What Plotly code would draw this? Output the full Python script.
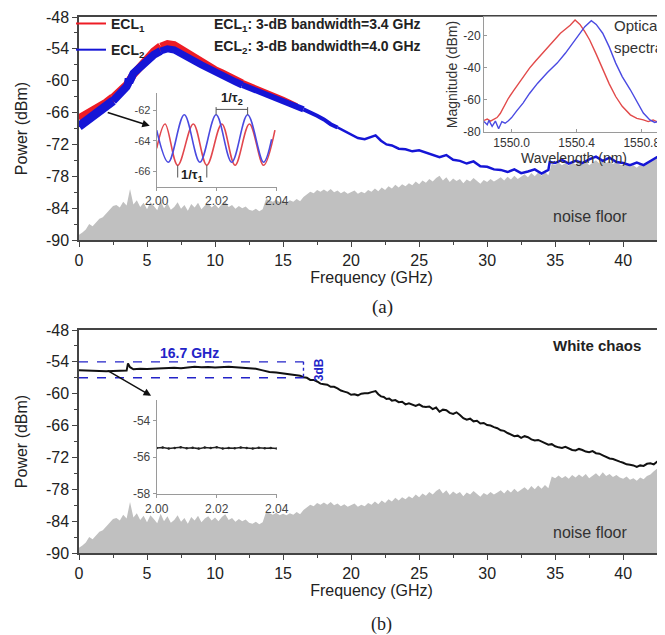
import plotly.graph_objects as go

FONT = "Liberation Sans, Arial, sans-serif"
SERIF = "Liberation Serif, Times New Roman, serif"

# ---------------- data ----------------
ecl1_freq = [0, 0.5, 1, 1.5, 2, 2.5, 3, 3.5, 4, 4.5, 5, 5.5, 6, 6.5, 7, 7.5, 8, 8.5, 9, 9.5,
             10, 10.5, 11, 11.5, 12, 12.5, 13, 13.5, 14, 14.5, 15, 15.5, 16]
ecl1_power = [-67.2, -66.5, -65.8, -65.0, -64.2, -63.2, -62.1, -60.8, -58.8, -57.3, -55.8, -54.5,
              -53.5, -53.0, -53.2, -54.0, -55.0, -55.8, -56.5, -57.2, -57.9, -58.5, -59.2, -59.8,
              -60.4, -60.9, -61.4, -62.0, -62.5, -63.1, -63.6, -64.2, -64.8]

ecl2_freq = [0, 0.5, 1, 1.5, 2, 2.5, 3, 3.5, 3.6, 3.65, 3.7, 4, 4.5, 5, 5.5, 6, 6.5, 7, 7.5, 8,
             8.5, 9, 9.5, 10, 10.5, 11, 11.5, 12, 12.5, 13, 13.5, 14, 14.5, 15, 15.5, 16, 16.5,
             17, 17.5, 18, 18.5, 19, 19.5, 20, 20.5, 21, 21.5, 21.8, 22.2, 22.6, 23, 23.5, 24,
             24.5, 25, 25.5, 26, 26.5, 27, 27.5, 28, 28.5, 29, 29.5, 30, 30.5, 31, 31.5, 32,
             32.5, 33, 33.5, 34, 34.5, 34.6, 35, 35.5, 36, 36.5, 37, 37.5, 38, 38.5, 39, 39.5,
             40, 40.5, 41, 41.5, 42, 42.5, 43]
ecl2_power = [-68.6, -67.6, -66.7, -65.8, -64.9, -63.8, -62.6, -61.1, -60.6, -59.6, -60.3, -58.6,
              -57.4, -56.1, -55.1, -54.4, -54.0, -54.2, -54.8, -55.6, -56.3, -57.0, -57.7, -58.4,
              -59.0, -59.6, -60.2, -60.8, -61.3, -61.8, -62.4, -62.9, -63.5, -64.0, -64.5, -65.0,
              -65.4, -65.9, -66.6, -67.3, -68.2, -68.8, -69.5, -70.2, -70.8, -71.0, -70.6, -70.3,
              -71.3, -72.0, -72.2, -72.8, -72.9, -73.3, -73.1, -73.5, -73.9, -74.4, -74.0, -74.9,
              -75.1, -75.6, -75.2, -76.1, -76.2, -76.7, -76.8, -77.2, -76.7, -77.4, -77.1, -76.7,
              -77.5, -76.8, -75.3, -75.5, -74.9, -75.6, -75.1, -75.5, -74.8, -74.3, -75.1, -74.5,
              -75.3, -75.5, -75.9, -75.4, -75.9, -75.1, -74.4, -73.6]

noise_step = 0.25
noise_power = [
    -89.0, -88.6, -88.0, -87.0, -87.4, -86.6, -86.0, -85.7, -84.9, -84.3, -83.6, -83.4,
    -83.9, -82.8, -83.5, -80.4, -83.3, -82.5, -83.8, -83.0, -84.2, -82.9, -83.6, -84.4,
    -82.6, -84.0, -83.1, -84.3, -83.8, -82.9, -84.1, -83.4, -84.5, -83.2, -83.9, -83.0,
    -84.2, -83.5, -83.1, -83.9, -83.3, -84.0, -83.2, -82.7, -83.8, -83.4, -84.1, -83.6,
    -84.0, -83.7, -84.3, -84.5, -84.1, -84.6, -84.2, -82.3, -82.5, -82.8, -82.4, -82.9,
    -82.6, -82.9, -82.5, -82.8, -82.3, -82.7, -81.9, -81.4, -80.9, -81.2, -80.6, -80.9,
    -80.5, -80.9, -80.4, -81.0, -80.7, -81.2, -80.8, -81.3, -81.0, -80.7, -81.3, -80.9,
    -81.2, -80.6, -80.9, -80.3, -80.8, -80.1, -80.6, -79.9, -80.3, -79.6, -80.1, -79.5,
    -79.9, -79.3, -79.7, -79.0, -79.5, -78.8, -79.2, -78.5, -79.0, -78.3, -77.9, -78.8,
    -78.2, -79.1, -78.4, -78.9, -78.5, -79.3, -78.6, -79.0, -78.3, -78.9, -79.4, -78.7,
    -79.1, -78.5, -79.0, -78.6, -78.2, -78.8, -78.1, -78.6, -77.9, -78.5, -78.0, -77.6,
    -78.2, -77.4, -78.0, -77.3, -77.9, -77.2, -77.8, -75.6, -75.9, -75.4, -75.9, -75.5,
    -76.0, -75.3, -75.8, -75.2, -75.7, -75.1, -75.9, -75.4, -75.0, -75.6, -74.8, -75.5,
    -75.1, -75.7, -75.3, -75.8, -76.0, -75.6, -76.2, -75.9, -76.4, -75.8, -76.1, -75.5,
    -75.2, -74.6, -74.1, -74.4, -73.9]
noise_freq = [round(i * noise_step, 2) for i in range(len(noise_power))]

chaos_freq = [0, 0.5, 1, 1.5, 2, 2.5, 3, 3.5, 3.6, 3.75, 4, 4.5, 5, 5.5, 6, 6.5, 7, 7.5, 8, 8.5,
              9, 9.5, 10, 10.5, 11, 11.5, 12, 12.5, 13, 13.5, 14, 14.5, 15, 15.5,
              16, 16.25, 16.5, 16.75, 17, 17.25, 17.5, 17.75, 18, 18.25, 18.5, 18.75, 19, 19.25,
              19.5, 19.75, 20, 20.25, 20.5, 20.75, 21, 21.25, 21.5, 21.8, 22.0, 22.2, 22.4, 22.6,
              22.8, 23, 23.25, 23.5, 23.75, 24, 24.25, 24.5, 24.75, 25, 25.25, 25.5, 25.75, 26,
              26.25, 26.5, 26.75, 27, 27.25, 27.5, 27.75, 28, 28.25, 28.5, 28.75, 29, 29.25, 29.5,
              29.75, 30, 30.25, 30.5, 30.75, 31, 31.25, 31.5, 31.75, 32, 32.25, 32.5, 32.75, 33,
              33.25, 33.5, 33.75, 34, 34.25, 34.5, 34.75, 35, 35.25, 35.5, 35.75, 36, 36.25, 36.5,
              36.75, 37, 37.25, 37.5, 37.75, 38, 38.25, 38.5, 38.75, 39, 39.25, 39.5, 39.75, 40,
              40.25, 40.5, 40.75, 41, 41.25, 41.5, 41.75, 42, 42.25, 42.5, 42.75, 43]
chaos_power = [-55.6, -55.65, -55.7, -55.7, -55.75, -55.7, -55.7, -55.65, -54.3, -55.0, -55.4,
               -55.3, -55.35, -55.3, -55.2, -55.25, -55.1, -55.2, -55.0, -54.9, -55.0, -54.95,
               -55.05, -54.95, -54.9, -55.0, -55.1, -55.15, -55.3, -55.6, -55.9, -56.0, -56.2,
               -56.3,
               -56.5, -56.6, -56.9, -57.0, -57.4, -57.4, -57.7, -58.1, -58.2, -58.3, -58.7, -58.7,
               -59.0, -59.4, -59.6, -59.8, -60.2, -60.1, -60.3, -60.0, -59.9, -59.9, -59.7, -59.5,
               -60.1, -60.5, -60.6, -61.0, -60.9, -61.3, -61.2, -61.6, -61.5, -62.0, -61.8, -62.1,
               -62.3, -62.0, -62.4, -62.5, -62.4, -62.9, -62.6, -63.4, -63.0, -63.1, -63.6, -63.8,
               -63.5, -64.0, -64.6, -64.9, -64.7, -65.2, -65.1, -65.6, -65.5, -65.9, -66.0, -66.3,
               -66.5, -66.9, -67.0, -67.4, -67.7, -68.0, -67.9, -68.3, -68.0, -68.2, -68.6, -68.8,
               -68.7, -69.0, -69.4, -69.6, -69.5, -69.9, -70.1, -70.2, -70.0, -70.3, -70.6, -70.7,
               -70.4, -70.6, -70.9, -71.0, -70.8, -71.2, -71.3, -71.6, -71.9, -72.2, -72.3, -72.6,
               -72.8, -73.0, -73.3, -73.4, -73.5, -73.8, -73.5, -73.6, -73.2, -73.1, -73.3, -72.8,
               -72.5, -73.2]

# zoomed views 2.00-2.04 GHz
zoom_red_freq = [2.000, 2.0028, 2.0070, 2.0122, 2.0167, 2.0217, 2.0261, 2.0309, 2.0356, 2.0394]
zoom_red_power = [-64.5, -62.9, -65.6, -62.9, -65.6, -62.9, -65.6, -62.9, -65.6, -63.3]
zoom_blue_freq = [2.000, 2.0039, 2.0092, 2.0144, 2.0198, 2.0250, 2.0303, 2.0356, 2.0383]
zoom_blue_power = [-63.3, -65.4, -62.3, -65.4, -62.3, -65.4, -62.3, -65.4, -63.9]
zoom_chaos_freq = [2.000, 2.002, 2.004, 2.006, 2.008, 2.010, 2.012, 2.014, 2.016, 2.018, 2.020,
                   2.022, 2.024, 2.026, 2.028, 2.030, 2.032, 2.034, 2.036, 2.038, 2.040]
zoom_chaos_power = [-55.50, -55.47, -55.52, -55.49, -55.46, -55.51, -55.48, -55.53, -55.47, -55.50,
                    -55.46, -55.52, -55.49, -55.51, -55.47, -55.50, -55.53, -55.48, -55.51, -55.49,
                    -55.52]
tau1_marks = [2.0070, 2.0167]
tau2_marks = [2.0198, 2.0303]

# optical spectra
opt_red_wl = [1549.83, 1549.85, 1549.87, 1549.89, 1549.91, 1549.93, 1549.95, 1549.98, 1550.01,
              1550.04, 1550.07, 1550.11, 1550.15, 1550.19, 1550.23, 1550.27, 1550.30, 1550.33,
              1550.36, 1550.39, 1550.42, 1550.45, 1550.48, 1550.52, 1550.56, 1550.60, 1550.64,
              1550.68, 1550.73, 1550.77, 1550.81, 1550.84, 1550.87, 1550.90, 1550.93]
opt_red_mag = [-72.8, -71.9, -73.2, -72.1, -71.0, -68.5, -64.5, -59.0, -54.5, -50.0, -45.5, -40.2,
               -35.5, -31.0, -26.5, -22.0, -18.5, -16.0, -13.5, -10.3, -13.0, -17.5, -22.7, -31.5,
               -41.3, -50.0, -57.9, -64.0, -69.3, -71.5, -72.4, -73.5, -72.5, -73.8, -72.8]
opt_blue_wl = [1549.83, 1549.85, 1549.86, 1549.88, 1549.90, 1549.92, 1549.94, 1549.96, 1549.98,
               1550.00, 1550.03, 1550.07, 1550.11, 1550.16, 1550.22, 1550.28, 1550.33, 1550.39,
               1550.42, 1550.45, 1550.49, 1550.52, 1550.56, 1550.60, 1550.64, 1550.68, 1550.73,
               1550.77, 1550.81, 1550.85, 1550.88, 1550.91, 1550.94]
opt_blue_mag = [-73.5, -75.5, -72.8, -76.5, -73.2, -78.0, -73.5, -74.5, -73.0, -71.0, -67.0, -62.0,
                -56.0, -49.6, -43.0, -37.1, -31.0, -22.7, -18.5, -14.4, -10.7, -13.0, -18.5, -27.0,
                -37.1, -45.5, -53.7, -61.0, -68.2, -72.5, -74.0, -73.2, -74.3]

freq_ticks = [0, 5, 10, 15, 20, 25, 30, 35, 40]
power_ticks = [-90, -84, -78, -72, -66, -60, -54, -48]
power_tick_labels = ["-90", "-84", "-78", "-72", "-66", "-60", "-54", "-48"]
flat_levels = [-54, -57]          # 3-dB reference levels in (b)
flat_bw_end = 16.5                # GHz, end of the dashed 3-dB lines
ecl1_bw, ecl2_bw, white_bw = 3.4, 4.0, 16.7

# ---------------- styling ----------------
RED = "#ee1c25"
BLUE = "#1515d6"
GRAY_FILL = "#c0c0c0"
AX = "#444444"
width_bands = [((0, 2.5), 9), ((2.5, 6), 8), ((6, 12), 7), ((12, 16.5), 6),
               ((16.5, 19), 4), ((19, 43), 2.5)]
FREQ_MIN, FREQ_MAX = 0, 43
P_MIN, P_MAX = -90, -48

TOP_DOM = [0.58396, 1.0]
BOT_DOM = [0.0, 0.41604]

fig = go.Figure()


def add_noise(xa, ya):
    fig.add_trace(go.Scatter(
        x=noise_freq + [noise_freq[-1], noise_freq[0]],
        y=noise_power + [P_MIN, P_MIN],
        fill="toself", fillcolor=GRAY_FILL, line=dict(width=0, color=GRAY_FILL),
        mode="lines", showlegend=False, hoverinfo="skip", xaxis=xa, yaxis=ya))


def add_banded(freq, power, color):
    for (lo, hi), w in width_bands:
        idx = [i for i, f in enumerate(freq) if lo <= f <= hi]
        if len(idx) < 2:
            continue
        fig.add_trace(go.Scatter(
            x=[freq[i] for i in idx], y=[power[i] for i in idx], mode="lines",
            line=dict(color=color, width=w), showlegend=False, hoverinfo="skip",
            xaxis="x", yaxis="y"))


# top panel
add_noise("x", "y")
add_banded(ecl1_freq, ecl1_power, RED)
add_banded(ecl2_freq, ecl2_power, BLUE)
# legend entries
fig.add_trace(go.Scatter(x=[None], y=[None], mode="lines", line=dict(color=RED, width=2),
                         name="<b>ECL<sub>1</sub></b>", legendgroup="a", xaxis="x", yaxis="y"))
fig.add_trace(go.Scatter(x=[None], y=[None], mode="lines", line=dict(color=BLUE, width=2),
                         name="<b>ECL<sub>2</sub></b>", legendgroup="b", xaxis="x", yaxis="y"))

# bottom panel
add_noise("x2", "y2")
fig.add_trace(go.Scatter(x=chaos_freq, y=chaos_power, mode="lines",
                         line=dict(color="#111111", width=2), showlegend=False,
                         xaxis="x2", yaxis="y2"))

# inset (a): zoom
fig.add_trace(go.Scatter(x=zoom_red_freq, y=zoom_red_power, mode="lines", line_shape="spline",
                         line=dict(color="#e2474d", width=1.6), showlegend=False,
                         xaxis="x3", yaxis="y3"))
fig.add_trace(go.Scatter(x=zoom_blue_freq, y=zoom_blue_power, mode="lines", line_shape="spline",
                         line=dict(color="#4a4ae0", width=1.6), showlegend=False,
                         xaxis="x3", yaxis="y3"))

# inset (a): optical spectra
fig.add_trace(go.Scatter(x=opt_red_wl, y=opt_red_mag, mode="lines",
                         line=dict(color="#e24a4a", width=1.4), showlegend=False,
                         xaxis="x4", yaxis="y4"))
fig.add_trace(go.Scatter(x=opt_blue_wl, y=opt_blue_mag, mode="lines",
                         line=dict(color="#4a4ae2", width=1.4), showlegend=False,
                         xaxis="x4", yaxis="y4"))

# inset (b): zoom
fig.add_trace(go.Scatter(x=zoom_chaos_freq, y=zoom_chaos_power, mode="lines+markers",
                         line=dict(color="#222222", width=1.5), marker=dict(size=2.5, color="#222"),
                         showlegend=False, xaxis="x5", yaxis="y5"))

main_x = dict(range=[FREQ_MIN, FREQ_MAX], tickvals=freq_ticks, ticks="outside", ticklen=5,
              tickwidth=1.3, tickcolor=AX, minor=dict(dtick=2.5, tick0=0, ticks="outside",
                                                      ticklen=3, tickcolor=AX),
              showline=True, linecolor=AX, linewidth=1.5, mirror=True, showgrid=False,
              zeroline=False, automargin=False,
              tickfont=dict(family=FONT, size=16, color="#222"),
              title=dict(text="Frequency (GHz)", font=dict(family=FONT, size=16, color="#222"),
                         standoff=4))
main_y = dict(range=[P_MIN, P_MAX], tickvals=power_ticks, ticktext=power_tick_labels,
              ticks="outside", ticklen=5, tickwidth=1.3, tickcolor=AX,
              minor=dict(dtick=3, tick0=-90, ticks="outside", ticklen=3, tickcolor=AX),
              showline=True, linecolor=AX, linewidth=1.5, mirror=True, showgrid=False,
              zeroline=False, automargin=False,
              tickfont=dict(family=FONT, size=16, color="#222"),
              title=dict(text="Power (dBm)", font=dict(family=FONT, size=16, color="#222"),
                         standoff=14))

inset_tick = dict(family=FONT, size=12, color="#444")
INS_LINE = "#9a9a9a"

# the page body adds an 8 px margin, so the figure is 8 px smaller than the window
fig.update_layout(
    width=657, height=627,
    margin=dict(l=71, r=1, t=9, b=82, autoexpand=False),
    paper_bgcolor="white", plot_bgcolor="rgba(0,0,0,0)",
    font=dict(family=FONT, color="#222"),
    xaxis=dict(main_x, domain=[0, 1], anchor="y"),
    yaxis=dict(main_y, domain=TOP_DOM, anchor="x"),
    xaxis2=dict(main_x, domain=[0, 1], anchor="y2"),
    yaxis2=dict(main_y, domain=BOT_DOM, anchor="x2"),
    xaxis3=dict(domain=[0.1328, 0.3380], anchor="y3", range=[2.0, 2.04], automargin=False,
                tickvals=[2.00, 2.02, 2.04], tickformat=".2f", ticks="outside", ticklen=3,
                tickcolor=INS_LINE, showline=True, linecolor=INS_LINE, linewidth=1,
                showgrid=False, zeroline=False, tickfont=inset_tick),
    yaxis3=dict(domain=[0.6834, 0.8576], anchor="x3", range=[-67.0, -60.9], automargin=False,
                tickvals=[-66, -64, -62], ticktext=["-66", "-64", "-62"], ticks="outside",
                ticklen=3, tickcolor=INS_LINE, showline=True, linecolor=INS_LINE, linewidth=1,
                showgrid=False, zeroline=False, tickfont=dict(family=FONT, size=11, color="#444")),
    xaxis4=dict(domain=[0.6923, 1.0], anchor="y4", range=[1549.83, 1550.937], automargin=False,
                tickvals=[1550.0, 1550.4, 1550.8], tickformat=".1f", ticks="inside", ticklen=3,
                tickcolor=INS_LINE, showline=True, linecolor=INS_LINE, linewidth=1, mirror=True,
                showgrid=False, zeroline=False, tickfont=dict(family=FONT, size=12, color="#333"),
                title=dict(text="Wavelength (nm)", font=dict(family=FONT, size=14, color="#333"),
                           standoff=2)),
    yaxis4=dict(domain=[0.7854, 1.0], anchor="x4", range=[-80, -8.4], automargin=False,
                tickvals=[-80, -60, -40, -20], ticktext=["-80", "-60", "-40", "-20"],
                ticks="inside", ticklen=3, tickcolor=INS_LINE, showline=True, linecolor=INS_LINE,
                linewidth=1, mirror=True, showgrid=False, zeroline=False,
                tickfont=dict(family=FONT, size=12, color="#333"),
                title=dict(text="Magnitude (dBm)", font=dict(family=FONT, size=14, color="#333"),
                           standoff=2)),
    xaxis5=dict(domain=[0.1328, 0.3380], anchor="y5", range=[2.0, 2.04], automargin=False,
                tickvals=[2.00, 2.02, 2.04], tickformat=".2f", ticks="outside", ticklen=3,
                tickcolor=INS_LINE, showline=True, linecolor=INS_LINE, linewidth=1,
                showgrid=False, zeroline=False, tickfont=inset_tick),
    yaxis5=dict(domain=[0.1095, 0.2854], anchor="x5", range=[-58.05, -52.85], automargin=False,
                tickvals=[-58, -56, -54], ticktext=["-58", "-56", "-54"], ticks="outside",
                ticklen=3, tickcolor=INS_LINE, showline=True, linecolor=INS_LINE, linewidth=1,
                showgrid=False, zeroline=False, tickfont=dict(family=FONT, size=12, color="#444")),
    showlegend=True,
    legend=dict(x=-0.0137, y=1.017, xanchor="left", yanchor="top", bgcolor="rgba(0,0,0,0)",
                font=dict(family=FONT, size=14, color="#222"), traceorder="grouped",
                tracegroupgap=5, itemwidth=30),
)

ann = []
ann.append(dict(xref="paper", yref="paper", x=0.2274, y=0.985, xanchor="left", yanchor="middle",
                text=f"<b>ECL<sub>1</sub>: 3-dB bandwidth={ecl1_bw} GHz</b>", showarrow=False,
                font=dict(family=FONT, size=14, color="#222")))
ann.append(dict(xref="paper", yref="paper", x=0.2274, y=0.9431, xanchor="left", yanchor="middle",
                text=f"<b>ECL<sub>2</sub>: 3-dB bandwidth={ecl2_bw} GHz</b>", showarrow=False,
                font=dict(family=FONT, size=14, color="#222")))
ann.append(dict(xref="paper", yref="paper", x=0.9111, y=0.985, xanchor="left", yanchor="middle",
                text="Optical", showarrow=False, font=dict(family=FONT, size=15, color="#333")))
ann.append(dict(xref="paper", yref="paper", x=0.9111, y=0.944, xanchor="left", yanchor="middle",
                text="spectra", showarrow=False, font=dict(family=FONT, size=15, color="#333")))
ann.append(dict(xref="paper", yref="paper", x=0.8735, y=0.6287, xanchor="center", yanchor="middle",
                text="noise floor", showarrow=False, font=dict(family=FONT, size=16, color="#333")))
ann.append(dict(xref="paper", yref="paper", x=0.8735, y=0.0379, xanchor="center", yanchor="middle",
                text="noise floor", showarrow=False, font=dict(family=FONT, size=16, color="#333")))
ann.append(dict(xref="paper", yref="paper", x=0.885, y=0.3862, xanchor="center", yanchor="middle",
                text="<b>White chaos</b>", showarrow=False, font=dict(family=FONT, size=15, color="#222")))
ann.append(dict(xref="paper", yref="paper", x=0.5188, y=0.4595, xanchor="center", yanchor="middle",
                text="(a)", showarrow=False, font=dict(family=SERIF, size=19, color="#222")))
ann.append(dict(xref="paper", yref="paper", x=0.5174, y=-0.133, xanchor="center", yanchor="middle",
                text="(b)", showarrow=False, font=dict(family=SERIF, size=18, color="#222")))
# bandwidth labels in (b)
ann.append(dict(xref="x2", yref="y2", x=8.15, y=-52.3, xanchor="center", yanchor="middle",
                text=f"<b>{white_bw} GHz</b>", showarrow=False,
                font=dict(family=FONT, size=14, color="#2323c8")))
ann.append(dict(xref="x2", yref="y2", x=17.6, y=-55.5, xanchor="center", yanchor="middle",
                text="<b>3dB</b>", textangle=-90, showarrow=False,
                font=dict(family=FONT, size=12, color="#2323c8")))
# arrows to the insets
ann.append(dict(xref="x", yref="y", axref="x", ayref="y", x=5.2, y=-68.5, ax=2.0, ay=-65.9,
                showarrow=True, arrowhead=2, arrowsize=1, arrowwidth=1.5, arrowcolor="#111",
                text=""))
ann.append(dict(xref="x2", yref="y2", axref="x2", ayref="y2", x=5.3, y=-60.4, ax=2.0, ay=-55.5,
                showarrow=True, arrowhead=2, arrowsize=1, arrowwidth=1.5, arrowcolor="#111",
                text=""))
# 1/tau labels
ann.append(dict(xref="x3", yref="y3", x=sum(tau2_marks) / 2, y=-61.25, xanchor="center",
                yanchor="middle", text="<b>1/τ<sub>2</sub></b>", showarrow=False,
                font=dict(family=FONT, size=13, color="#222")))
ann.append(dict(xref="x3", yref="y3", x=sum(tau1_marks) / 2, y=-66.25, xanchor="center",
                yanchor="middle", text="<b>1/τ<sub>1</sub></b>", showarrow=False,
                font=dict(family=FONT, size=13, color="#222")))
fig.update_layout(annotations=ann)

shapes = []
for lvl in flat_levels:
    shapes.append(dict(type="line", xref="x2", yref="y2", x0=FREQ_MIN, x1=flat_bw_end, y0=lvl,
                       y1=lvl, line=dict(color="#2323c8", width=1.4, dash="dash")))
shapes.append(dict(type="line", xref="x2", yref="y2", x0=flat_bw_end, x1=flat_bw_end,
                   y0=flat_levels[0], y1=flat_levels[1],
                   line=dict(color="#2323c8", width=1.4, dash="dot")))
# tau brackets
shapes.append(dict(type="line", xref="x3", yref="y3", x0=tau2_marks[0], x1=tau2_marks[1],
                   y0=-61.95, y1=-61.95, line=dict(color="#555", width=1)))
for t in tau2_marks:
    shapes.append(dict(type="line", xref="x3", yref="y3", x0=t, x1=t, y0=-61.8, y1=-62.3,
                       line=dict(color="#555", width=1)))
for t in tau1_marks:
    shapes.append(dict(type="line", xref="x3", yref="y3", x0=t, x1=t, y0=-65.6, y1=-66.4,
                       line=dict(color="#555", width=1)))
fig.update_layout(shapes=shapes)

fig.write_html("out.html")
